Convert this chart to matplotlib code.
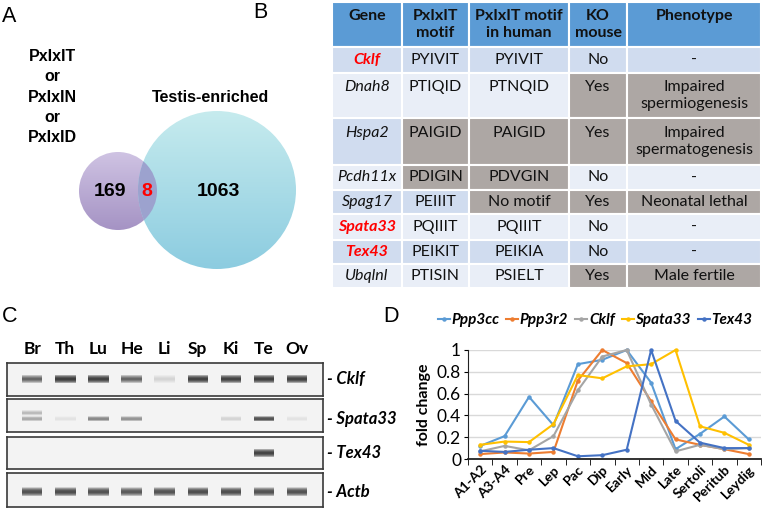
import numpy as np
import matplotlib
matplotlib.use('Agg')
import matplotlib.pyplot as plt
from matplotlib.patches import Circle
from matplotlib.colors import to_rgb

plt.rcParams['font.family'] = ['Lato', 'DejaVu Sans']

# ---- data ----
# A: venn
venn_counts = [169, 8, 1063]
venn_left_label = 'PxIxIT\nor\nPxIxIN\nor\nPxIxID'
venn_right_label = 'Testis-enriched'

# B: table
col_labels = ['Gene', 'PxIxIT\nmotif', 'PxIxIT motif\nin human', 'KO\nmouse', 'Phenotype']
genes = ['Cklf', 'Dnah8', 'Hspa2', 'Pcdh11x', 'Spag17', 'Spata33', 'Tex43', 'Ubqlnl']
motif_mouse = ['PYIVIT', 'PTIQID', 'PAIGID', 'PDIGIN', 'PEIIIT', 'PQIIIT', 'PEIKIT', 'PTISIN']
motif_human = ['PYIVIT', 'PTNQID', 'PAIGID', 'PDVGIN', 'No motif', 'PQIIIT', 'PEIKIA', 'PSIELT']
ko_mouse = ['No', 'Yes', 'Yes', 'No', 'Yes', 'No', 'No', 'Yes']
phenotype = ['-', 'Impaired\nspermiogenesis', 'Impaired\nspermatogenesis', '-',
             'Neonatal lethal', '-', '-', 'Male fertile']
red_genes = ['Cklf', 'Spata33', 'Tex43']
# gray cells (motif, human, KO, phenotype)
gray_cells = [[0, 0, 0, 0], [0, 0, 1, 1], [1, 1, 1, 1], [1, 1, 0, 0],
              [0, 1, 1, 1], [0, 0, 0, 0], [0, 0, 0, 0], [0, 0, 1, 1]]

# C: RT-PCR gel, band intensity per tissue
tissues = ['Br', 'Th', 'Lu', 'He', 'Li', 'Sp', 'Ki', 'Te', 'Ov']
gel_genes = ['Cklf', 'Spata33', 'Tex43', 'Actb']
band_cklf = [0.55, 0.92, 0.88, 0.55, 0.08, 0.88, 0.85, 0.9, 0.88]
band_spata33 = [0.22, 0.03, 0.35, 0.3, 0.0, 0.0, 0.08, 0.7, 0.03]
band_spata33_upper = [0.16, 0, 0, 0, 0, 0, 0, 0, 0]
band_tex43 = [0, 0, 0, 0, 0, 0, 0, 0.85, 0]
band_actb = [0.72, 0.75, 0.72, 0.65, 0.7, 0.75, 0.75, 0.72, 0.72]

# D: fold change
stages = ['A1-A2', 'A3-A4', 'Pre', 'Lep', 'Pac', 'Dip', 'Early', 'Mid', 'Late',
          'Sertoli', 'Peritub', 'Leydig']
ppp3cc = [0.12, 0.21, 0.57, 0.31, 0.87, 0.91, 1.0, 0.70, 0.09, 0.23, 0.39, 0.18]
ppp3r2 = [0.045, 0.06, 0.05, 0.065, 0.72, 1.0, 0.88, 0.53, 0.18, 0.13, 0.09, 0.045]
cklf = [0.07, 0.12, 0.08, 0.21, 0.63, 0.94, 1.0, 0.50, 0.07, 0.13, 0.09, 0.10]
spata33 = [0.13, 0.16, 0.155, 0.32, 0.77, 0.74, 0.85, 0.87, 1.0, 0.30, 0.24, 0.13]
tex43 = [0.075, 0.065, 0.085, 0.10, 0.025, 0.035, 0.085, 1.0, 0.35, 0.15, 0.10, 0.10]

W, H = 762, 513
fig = plt.figure(figsize=(W / 100, H / 100), dpi=100)


def px_axes(x0, y0, x1, y1):
    return fig.add_axes([x0 / W, 1 - y1 / H, (x1 - x0) / W, (y1 - y0) / H])


ov = fig.add_axes([0, 0, 1, 1])
ov.axis('off')

letter_kw = dict(fontsize=15.5, family='Liberation Sans', va='top', ha='left')
ov.text(2 / W, 1 - 6 / H, 'A', transform=fig.transFigure, **letter_kw)
ov.text(253 / W, 1 - 2 / H, 'B', transform=fig.transFigure, **letter_kw)
ov.text(2 / W, 1 - 306 / H, 'C', transform=fig.transFigure, **letter_kw)
ov.text(383 / W, 1 - 306 / H, 'D', transform=fig.transFigure, **letter_kw)

# ---- A: venn ----
va = px_axes(0, 30, 330, 300)
va.axis('off')


def grad_circle(ax, cx, cy, r, c_top, c_bot, z):
    circ = Circle((cx, cy), r, facecolor='none', edgecolor='none', zorder=z)
    ax.add_patch(circ)
    t = np.linspace(0, 1, 120)[:, None, None]
    img = np.array(to_rgb(c_top)) * (1 - t) + np.array(to_rgb(c_bot)) * t
    im = ax.imshow(img, extent=(cx - r, cx + r, cy + r, cy - r), aspect='auto', zorder=z)
    im.set_clip_path(circ)
    return circ


small = grad_circle(va, 118, 191, 39, '#CFC3E3', '#A593C4', 1)
big = grad_circle(va, 217, 190, 79, '#C6EBEE', '#8CCCE0', 2)
ov_patch = Circle((217, 190), 79, facecolor='#9CA2CE', edgecolor='none', zorder=3)
va.add_patch(ov_patch)
ov_patch.set_clip_path(small)
va.set_xlim(0, 330)
va.set_ylim(300, 30)

venn_kw = dict(family='Liberation Sans', fontweight='bold', ha='center', va='center', zorder=5)
va.text(52, 97, venn_left_label, fontsize=11.5, linespacing=1.42, **venn_kw)
va.text(210, 97, venn_right_label, fontsize=11.5, **venn_kw)
va.text(110, 191, str(venn_counts[0]), fontsize=14, **venn_kw)
va.text(147, 191, str(venn_counts[1]), fontsize=14, color='#FF0000', **venn_kw)
va.text(218, 191, str(venn_counts[2]), fontsize=14, **venn_kw)

# ---- B: table ----
tb = px_axes(332, 2, 761, 288)
tb.axis('off')
cols = [genes, motif_mouse, motif_human, ko_mouse, phenotype]
rows = []
for i in range(len(genes)):
    row = [c[i] for c in cols]
    if any('\n' in s for s in row):
        row = [s if '\n' in s else s + '\n' for s in row]
    rows.append(row)
hdr = [s if '\n' in s else s + '\n' for s in col_labels]
col_w = [70, 67, 100, 58, 134]
row_h = [45, 26, 45, 47, 25, 24, 26, 24, 24]
table = tb.table(cellText=rows, colLabels=hdr, cellLoc='center',
                 colWidths=[w / sum(col_w) for w in col_w], bbox=[0, 0, 1, 1])
table.auto_set_font_size(False)
table.set_fontsize(11.5)
for (r, c), cell in table.get_celld().items():
    cell.set_height(row_h[r] / sum(row_h))
    cell.set_edgecolor('white')
    cell.set_linewidth(1.5)
    txt = cell.get_text()
    txt.set_color('#111111')
    if r == 0:
        cell.set_facecolor('#5B9BD5')
        txt.set_fontweight('bold')
        continue
    base = '#D0DCEF' if r % 2 == 1 else '#E9EEF7'
    if c > 0 and gray_cells[r - 1][c - 1]:
        base = '#ADA7A4'
    cell.set_facecolor(base)
    if c == 0:
        txt.set_style('italic')
        if genes[r - 1] in red_genes:
            txt.set_color('#FF0000')
            txt.set_fontweight('bold')

# ---- C: gels ----
band_sets = [[band_cklf], [band_spata33, band_spata33_upper], [band_tex43], [band_actb]]
band_y = [[0.52], [0.40, 0.58], [0.5], [0.45]]
band_h = [0.26, 0.16, 0.26, 0.26]
gel_boxes = [(363, 396), (399, 432), (437, 469), (473, 507)]
lanes = np.arange(len(tissues))
for g, (y0, y1) in enumerate(gel_boxes):
    gx = px_axes(7, y0, 323, y1)
    gx.set_facecolor('#F3F3F3')
    gx.set_xlim(-0.76, 8.78)
    gx.set_ylim(0, 1)
    for s in gx.spines.values():
        s.set_color('#3A3A3A')
        s.set_linewidth(1.2)
    for vals, yc in zip(band_sets[g], band_y[g]):
        for hh in np.linspace(band_h[g], 0.05, 8):
            gx.bar(lanes, hh, bottom=yc - hh / 2, width=0.62,
                   color=[(0.12, 0.12, 0.12, a * 0.22) for a in vals], linewidth=0)
    gx.text(1.012, band_y[g][0], '- ' + gel_genes[g], transform=gx.transAxes,
            fontsize=12, fontweight='bold', style='italic', va='center', ha='left')
    if g == 0:
        gx.set_xticks(lanes, tissues, fontsize=12.5, fontweight='bold')
        gx.xaxis.tick_top()
        gx.tick_params(axis='x', length=0, pad=4)
        gx.set_yticks([])
    else:
        gx.set_xticks([])
        gx.set_yticks([])

# ---- D: line chart ----
ax = px_axes(468, 350, 761, 459)
x = np.arange(len(stages))
series = [('Ppp3cc', ppp3cc, '#5B9BD5'), ('Ppp3r2', ppp3r2, '#ED7D31'),
          ('Cklf', cklf, '#A5A5A5'), ('Spata33', spata33, '#FFC000'),
          ('Tex43', tex43, '#4472C4')]
for name, vals, col in series:
    ax.plot(x, vals, color=col, lw=1.5, marker='o', ms=2.2, label=name, clip_on=False)
ax.set_xlim(-0.5, len(stages) - 0.5)
ax.set_ylim(0, 1)
ax.set_yticks([0, 0.2, 0.4, 0.6, 0.8, 1.0], ['0', '0.2', '0.4', '0.6', '0.8', '1'])
ax.yaxis.grid(True, color='#D9D9D9', lw=1)
ax.set_axisbelow(True)
ax.spines[['top', 'right']].set_visible(False)
ax.spines['left'].set_color('#222222')
ax.spines['bottom'].set_color('#222222')
ax.spines['bottom'].set_linewidth(1.3)
ax.tick_params(axis='y', labelsize=12.5, length=3, pad=2)
ax.set_xticks(x, stages, rotation=45, ha='right', rotation_mode='anchor',
              fontsize=10, fontweight='bold')
ax.set_xticks(np.arange(-0.5, len(stages)), minor=True)
ax.tick_params(axis='x', which='major', length=0, pad=3)
ax.tick_params(axis='x', which='minor', length=4)
ax.set_ylabel('fold change', fontsize=11.5, fontweight='bold', labelpad=4)
ax.legend(loc='center', bbox_to_anchor=(595 / W, 1 - 320 / H), bbox_transform=fig.transFigure,
          ncol=5, frameon=False, handlelength=0.8, handletextpad=0.1, columnspacing=0.45,
          prop=dict(size=11, weight='bold', style='italic'))

fig.savefig('out.png', dpi=100)
